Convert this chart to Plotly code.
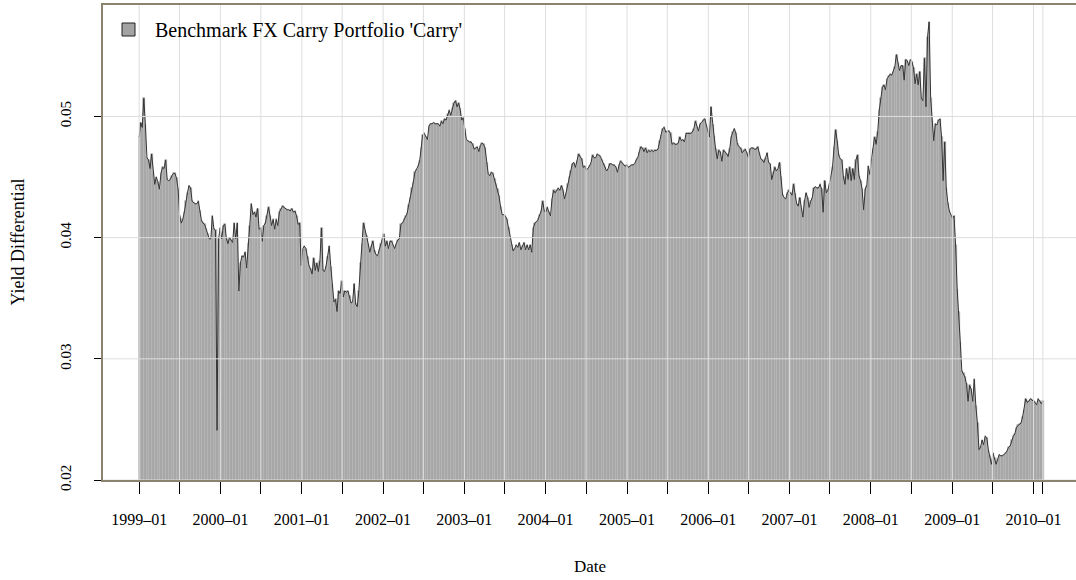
import pandas as pd
import plotly.graph_objects as go

# Weekly yield differential of the benchmark FX carry portfolio
carry_1999_2000 = [
    0.0483, 0.0495, 0.0491, 0.0515, 0.0493, 0.0466, 0.0464, 0.0457, 0.0469, 0.0453,
    0.0444, 0.0450, 0.0446, 0.0440, 0.0453, 0.0458, 0.0457, 0.0464, 0.0448, 0.0447,
    0.0448, 0.0451, 0.0453, 0.0453, 0.0449, 0.0440, 0.0418, 0.0412, 0.0415, 0.0421,
    0.0430, 0.0437, 0.0443, 0.0441, 0.0430, 0.0429, 0.0428, 0.0428, 0.0430, 0.0422,
    0.0414, 0.0412, 0.0411, 0.0407, 0.0403, 0.0399, 0.0399, 0.0418, 0.0407, 0.0406,
    0.0241,
    0.0399, 0.0408, 0.0399, 0.0410, 0.0411, 0.0399, 0.0395, 0.0400, 0.0398, 0.0396,
    0.0412, 0.0399, 0.0412, 0.0356, 0.0379, 0.0385, 0.0384, 0.0388, 0.0375, 0.0396,
    0.0410, 0.0428, 0.0419, 0.0421, 0.0417, 0.0424, 0.0407, 0.0408, 0.0397, 0.0410,
    0.0412, 0.0418, 0.0425, 0.0418, 0.0410, 0.0415, 0.0407, 0.0415, 0.0410, 0.0421,
    0.0424, 0.0426, 0.0425, 0.0424, 0.0423,
]
carry_2000_2002 = [
    0.0423, 0.0422, 0.0424, 0.0421, 0.0422, 0.0418, 0.0411, 0.0412, 0.0377, 0.0391,
    0.0393, 0.0391, 0.0384, 0.0377, 0.0374, 0.0370, 0.0383, 0.0373, 0.0379, 0.0372,
    0.0381, 0.0408, 0.0373, 0.0372, 0.0377, 0.0384, 0.0393, 0.0376, 0.0361, 0.0347,
    0.0349, 0.0339, 0.0356, 0.0354, 0.0364, 0.0351, 0.0356, 0.0355, 0.0356, 0.0352,
    0.0346, 0.0347, 0.0362, 0.0345, 0.0343, 0.0356, 0.0379, 0.0395, 0.0412, 0.0405,
    0.0401, 0.0395, 0.0388, 0.0393, 0.0397, 0.0389, 0.0386, 0.0385, 0.0390, 0.0395,
    0.0399, 0.0403, 0.0393, 0.0397, 0.0391, 0.0397, 0.0397, 0.0393, 0.0391, 0.0395,
    0.0398, 0.0399, 0.0411, 0.0412, 0.0415, 0.0418, 0.0420, 0.0427, 0.0433, 0.0441,
    0.0446, 0.0454, 0.0456, 0.0459, 0.0463, 0.0474, 0.0485, 0.0486, 0.0483, 0.0481,
    0.0492, 0.0494, 0.0494, 0.0495, 0.0494, 0.0494,
]
carry_2002_2004 = [
    0.0494, 0.0492, 0.0496, 0.0494, 0.0498, 0.0497, 0.0502, 0.0505, 0.0501, 0.0507,
    0.0511, 0.0513, 0.0508, 0.0511, 0.0506, 0.0497, 0.0499, 0.0490,
    0.0481, 0.0480, 0.0479, 0.0479, 0.0477, 0.0473, 0.0474, 0.0475, 0.0471, 0.0476,
    0.0478, 0.0477, 0.0474, 0.0462, 0.0453, 0.0451, 0.0454, 0.0453, 0.0448, 0.0444,
    0.0440, 0.0434, 0.0425, 0.0419, 0.0419, 0.0418, 0.0415, 0.0408, 0.0400, 0.0394,
    0.0389, 0.0391, 0.0394, 0.0392, 0.0396, 0.0390, 0.0393, 0.0396, 0.0390, 0.0394,
    0.0390, 0.0394, 0.0388, 0.0408, 0.0412, 0.0413, 0.0415, 0.0419, 0.0422, 0.0430,
    0.0422, 0.0421, 0.0425, 0.0421, 0.0418, 0.0432, 0.0439, 0.0437, 0.0439, 0.0441,
    0.0439, 0.0443, 0.0439, 0.0432, 0.0437, 0.0444, 0.0450, 0.0455, 0.0461, 0.0462,
    0.0458, 0.0463, 0.0469, 0.0467, 0.0465, 0.0458, 0.0459, 0.0456, 0.0457,
]
carry_2004_2006 = [
    0.0459, 0.0462, 0.0468, 0.0466, 0.0466, 0.0469, 0.0468, 0.0467, 0.0464, 0.0461,
    0.0458, 0.0455, 0.0457, 0.0461, 0.0461, 0.0460, 0.0460, 0.0458, 0.0454, 0.0460,
    0.0463, 0.0462, 0.0460, 0.0459, 0.0460, 0.0458, 0.0459, 0.0460, 0.0460, 0.0461,
    0.0464, 0.0466, 0.0471, 0.0475, 0.0474, 0.0471, 0.0474, 0.0470, 0.0472, 0.0471,
    0.0472, 0.0471, 0.0472, 0.0472, 0.0473, 0.0480, 0.0485, 0.0490, 0.0491, 0.0487,
    0.0488, 0.0488, 0.0486, 0.0477, 0.0478, 0.0477, 0.0477, 0.0478, 0.0483, 0.0480,
    0.0481, 0.0479, 0.0486, 0.0486, 0.0486, 0.0486, 0.0487, 0.0490, 0.0496, 0.0491,
    0.0488, 0.0494, 0.0495, 0.0497, 0.0498, 0.0493, 0.0488, 0.0483, 0.0508, 0.0493,
    0.0484, 0.0473, 0.0465, 0.0472, 0.0471, 0.0463, 0.0472, 0.0471, 0.0469, 0.0467,
    0.0473, 0.0483, 0.0487, 0.0490, 0.0486, 0.0477,
]
carry_2006_2008 = [
    0.0475, 0.0474, 0.0470, 0.0472, 0.0473, 0.0470, 0.0466, 0.0473, 0.0474, 0.0474,
    0.0473, 0.0473, 0.0475, 0.0470, 0.0465, 0.0464, 0.0462, 0.0466, 0.0470, 0.0462,
    0.0461, 0.0448, 0.0454, 0.0458, 0.0455, 0.0457, 0.0462, 0.0450, 0.0435, 0.0433,
    0.0432, 0.0437, 0.0439, 0.0437, 0.0435, 0.0444, 0.0436, 0.0428, 0.0426, 0.0433,
    0.0425, 0.0417, 0.0430, 0.0437, 0.0433, 0.0425, 0.0430, 0.0433, 0.0441, 0.0442,
    0.0441, 0.0441, 0.0444, 0.0440, 0.0421, 0.0447, 0.0437, 0.0439, 0.0444, 0.0451,
    0.0458, 0.0475, 0.0489, 0.0480, 0.0468, 0.0465, 0.0464, 0.0450, 0.0444, 0.0457,
    0.0448, 0.0458, 0.0447, 0.0457, 0.0448, 0.0464, 0.0468, 0.0451, 0.0447, 0.0440,
    0.0423, 0.0440, 0.0443, 0.0459, 0.0452, 0.0465, 0.0473, 0.0483, 0.0477, 0.0487,
    0.0505, 0.0515, 0.0524, 0.0526, 0.0522, 0.0531,
]
carry_2008_2010 = [
    0.0533, 0.0535, 0.0534, 0.0537, 0.0541, 0.0551, 0.0544, 0.0538, 0.0542, 0.0542,
    0.0530, 0.0547, 0.0546, 0.0542, 0.0547, 0.0545, 0.0540, 0.0527, 0.0535, 0.0526,
    0.0537, 0.0515, 0.0513, 0.0548, 0.0508, 0.0566, 0.0578, 0.0515, 0.0497, 0.0480,
    0.0494, 0.0493, 0.0497, 0.0498, 0.0483, 0.0447, 0.0479, 0.0441, 0.0429, 0.0422,
    0.0419, 0.0416, 0.0418, 0.0394, 0.0358, 0.0339, 0.0314, 0.0290, 0.0288, 0.0285,
    0.0279, 0.0265, 0.0278, 0.0275, 0.0265, 0.0283, 0.0261, 0.0247, 0.0225, 0.0227,
    0.0233, 0.0229, 0.0236, 0.0235, 0.0225, 0.0220, 0.0213, 0.0222, 0.0218, 0.0213,
    0.0217, 0.0221, 0.0220, 0.0220, 0.0221, 0.0222, 0.0224, 0.0227, 0.0228, 0.0233,
    0.0236, 0.0238, 0.0243, 0.0245, 0.0246, 0.0247, 0.0252, 0.0258, 0.0267, 0.0264,
    0.0265, 0.0267, 0.0266, 0.0265, 0.0264, 0.0262, 0.0267, 0.0265, 0.0263, 0.0265,
]

carry = (carry_1999_2000 + carry_2000_2002 + carry_2002_2004
         + carry_2004_2006 + carry_2006_2008 + carry_2008_2010)
start_date = "1999-01-01"
dates = pd.date_range(start_date, periods=len(carry), freq="7D")

series_name = "Benchmark FX Carry Portfolio 'Carry'"
y_ticks = [0.02, 0.03, 0.04, 0.05]
y_ticktext = ["0.02", "0.03", "0.04", "0.05"]

# x ticks: every six months, labels only in January, plus the final observation
half_years = list(pd.date_range("1999-01-01", "2010-01-01", freq="6MS"))
x_ticks = half_years + [dates[-1]]
x_ticktext = [d.strftime("%Y\u2013%m") if d.month == 1 else "" for d in half_years] + [""]

# ---- layout geometry ----
W, H = 1076, 580
ML, MT, MB, MR = 103, 5, 100, 0
PW, PH = W - ML - MR, H - MT - MB

span = dates[-1] - dates[0]
pad = span * 0.04
x_left = dates[0] - pad
days_per_px = (span * 1.08) / 976
x_right = x_left + days_per_px * PW
y_range = [0.02, 0.0592]

FONT = "Liberation Serif, Times New Roman, serif"
FRAME = "#8c836f"
GRID = "#dedede"

fig = go.Figure()
fig.add_trace(go.Bar(
    x=dates, y=carry, width=7 * 86400000, offset=-2 * 86400000,
    marker=dict(color="#bababa", line=dict(color="#9b9b9b", width=0.6)),
    showlegend=False, hoverinfo="skip",
))
fig.add_trace(go.Scatter(
    x=dates, y=carry, mode="lines",
    line=dict(color="#333333", width=1),
    showlegend=False, name=series_name,
))

shapes = []
for t in x_ticks:
    shapes.append(dict(type="line", xref="x", yref="paper", x0=t, x1=t, y0=0, y1=1,
                       line=dict(color=GRID, width=1), layer="above"))
for v in y_ticks:
    shapes.append(dict(type="line", xref="paper", yref="y", x0=0, x1=1, y0=v, y1=v,
                       line=dict(color=GRID, width=1), layer="above"))

# legend key (manual, R-style)
def px_x(px):
    return (px - ML) / PW

def px_y(py):
    return (H - MB - py) / PH

shapes.append(dict(type="rect", xref="paper", yref="paper",
                   x0=px_x(122), x1=px_x(135), y0=px_y(36), y1=px_y(23),
                   fillcolor="#a3a3a3", line=dict(color="#222222", width=1), layer="above"))

annotations = [
    dict(text=series_name, xref="paper", yref="paper", x=px_x(153), y=px_y(30),
         xanchor="left", yanchor="middle", showarrow=False,
         font=dict(family=FONT, size=20, color="black")),
    dict(text="Date", xref="paper", yref="paper", x=0.5, y=0, yshift=-86,
         xanchor="center", yanchor="middle", showarrow=False,
         font=dict(family=FONT, size=17, color="black")),
    dict(text="Yield Differential", xref="paper", yref="paper", x=0, y=0.5,
         xshift=-(ML - 17), xanchor="center", yanchor="middle", textangle=-90,
         showarrow=False, font=dict(family=FONT, size=18, color="black")),
]

fig.update_layout(
    width=W, height=H,
    margin=dict(l=ML, r=MR, t=MT, b=MB, pad=0),
    plot_bgcolor="white", paper_bgcolor="white",
    bargap=0, showlegend=False,
    shapes=shapes, annotations=annotations,
    font=dict(family=FONT, size=15, color="black"),
)
fig.update_xaxes(
    type="date", range=[x_left, x_right],
    tickmode="array", tickvals=x_ticks, ticktext=x_ticktext,
    ticks="outside", ticklen=12, tickwidth=1, tickcolor="black",
    ticklabelstandoff=12,
    showgrid=False, zeroline=False,
    showline=True, linecolor=FRAME, linewidth=1.5, mirror=True,
    layer="above traces",
    tickfont=dict(family=FONT, size=16, color="black"),
)
fig.update_yaxes(
    range=y_range,
    tickmode="array", tickvals=y_ticks, ticktext=y_ticktext,
    ticks="outside", ticklen=7, tickwidth=1, tickcolor="black",
    tickangle=-90, ticklabelstandoff=17,
    showgrid=False, zeroline=False,
    showline=True, linecolor=FRAME, linewidth=1.5, mirror=False,
    layer="above traces",
    tickfont=dict(family=FONT, size=15, color="black"),
)

fig.write_html("out.html", config={"displayModeBar": False},
               post_script="document.body.style.margin='0';document.body.style.overflow='hidden';")
